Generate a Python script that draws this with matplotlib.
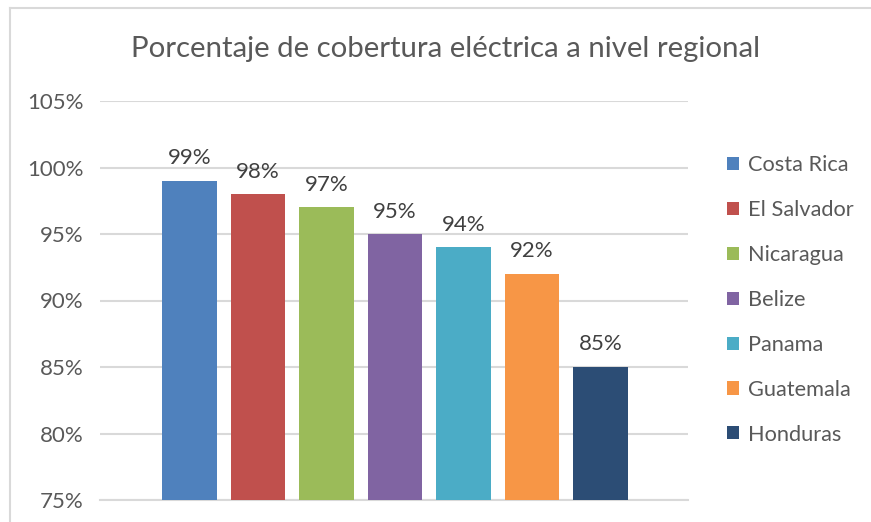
import matplotlib.pyplot as plt
from matplotlib.patches import Patch
from matplotlib.lines import Line2D
from matplotlib.ticker import FuncFormatter

plt.rcParams['font.family'] = ['Lato', 'DejaVu Sans']

countries = ["Costa Rica", "El Salvador", "Nicaragua", "Belize", "Panama", "Guatemala", "Honduras"]
coverage = [99, 98, 97, 95, 94, 92, 85]
colors = ["#4F81BD", "#C0504D", "#9BBB59", "#8064A2", "#4BACC6", "#F79646", "#2C4D75"]
yticks = [75, 80, 85, 90, 95, 100, 105]

text_color = "#595959"
grid_color = "#D9D9D9"

fig = plt.figure(figsize=(8.71, 5.22), dpi=100)
ax = fig.add_axes([100 / 871, 1 - 500 / 522, 588 / 871, 399 / 522])

for i, (name, val, col) in enumerate(zip(countries, coverage, colors)):
    ax.bar(i, val - yticks[0], bottom=yticks[0], width=0.8, color=col, zorder=3)
    ax.annotate(f"{val}%", (i, val), xytext=(0, 9), textcoords="offset points",
                ha="center", va="bottom", fontsize=16, color="#404040")

ax.set_ylim(yticks[0], yticks[-1])
ax.set_xlim(-1.307, 7.277)
ax.set_yticks(yticks)
ax.yaxis.set_major_formatter(FuncFormatter(lambda v, p: f"{v:.0f}%"))
ax.set_xticks([])
ax.tick_params(axis="y", length=0, labelsize=16, labelcolor=text_color, pad=12)
ax.grid(axis="y", color=grid_color, linewidth=1.5, zorder=0)
for s in ["top", "right", "left"]:
    ax.spines[s].set_visible(False)
ax.spines["bottom"].set_color(grid_color)
ax.spines["bottom"].set_linewidth(1.5)

fig.text(446 / 871, 1 - 49 / 522, "Porcentaje de cobertura eléctrica a nivel regional",
         ha="center", va="center", fontsize=21.2, color=text_color)

handles = [Patch(facecolor=c, edgecolor="none") for c in colors]
fig.legend(handles, countries, loc="center left", bbox_to_anchor=(727 / 871, 1 - 300 / 522),
           frameon=False, fontsize=15.7, labelcolor=text_color, handlelength=0.55,
           handleheight=0.55, handletextpad=0.4, labelspacing=1.14, borderaxespad=0,
           borderpad=0)

# light chart-area border (top and left visible)
fig.add_artist(Line2D([10 / 871, 1], [1 - 7.5 / 522, 1 - 7.5 / 522], color=grid_color, lw=1.5))
fig.add_artist(Line2D([10 / 871, 10 / 871], [0, 1 - 7.5 / 522], color=grid_color, lw=1.5))

fig.savefig("out.png", dpi=100)
